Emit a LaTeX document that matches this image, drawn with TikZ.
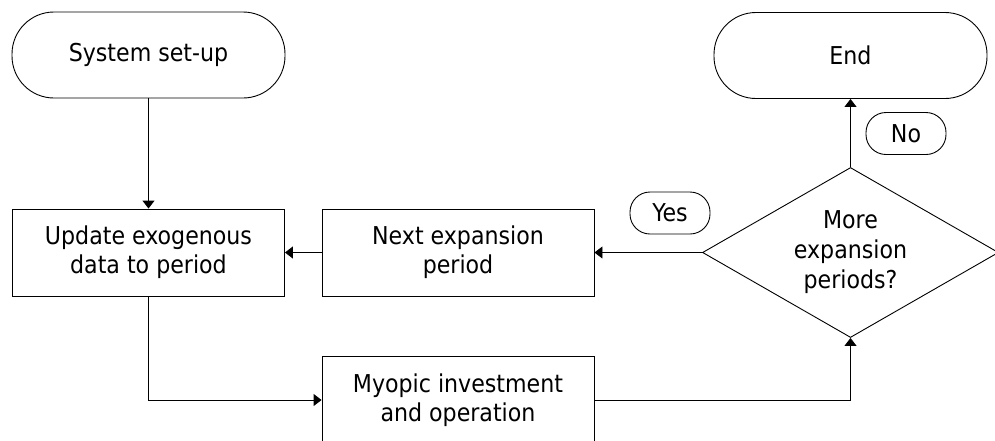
\documentclass[tikz,border=0pt]{standalone}
\usepackage{fontspec}
\setmainfont{DejaVu Sans Condensed}
\usetikzlibrary{shapes.geometric,arrows.meta}

\begin{document}
\begin{tikzpicture}[x=1pt,y=-1pt,
  every node/.style={font=\fontsize{24.6}{29}\selectfont, align=center, inner sep=0pt},
  terminal/.style={draw, line width=0.9pt, rounded corners=42pt, minimum width=273pt, minimum height=86pt},
  process/.style={draw, line width=0.9pt, minimum width=272pt, minimum height=87pt},
  decision/.style={draw, line width=0.9pt, diamond, aspect=1.74, minimum width=296pt, minimum height=170pt,
    font=\fontsize{24.6}{30}\selectfont, text width=130pt},
  answer/.style={draw, line width=0.9pt, rounded corners=20pt, minimum width=80pt, minimum height=42pt},
  flow/.style={line width=0.9pt, -{Triangle[length=8pt,width=12pt]}}
]
  % page frame
  \useasboundingbox[fill=white] (0,0) rectangle (995,440);

  % blocks
  \node[terminal] (setup)  at (148.5,55)   {System set-up};
  \node[terminal] (finish) at (850.5,55.5) {End};
  \node[process]  (update) at (148.5,252.5) {Update exogenous\\data to period};
  \node[process]  (nextp)  at (458,252.5)   {Next expansion\\period};
  \node[process]  (myopic) at (458,400)     {Myopic investment\\and operation};
  \node[decision] (more)   at (850.5,252.5) {More\\expansion\\periods?};

  % branch labels
  \node[answer] (yes) at (670,213)   {Yes};
  \node[answer] (no)  at (906,133.5) {No};

  % connectors
  \draw[flow] (setup.south) -- (update.north);
  \draw[flow] (update.south) |- (myopic.west);
  \draw[flow] (myopic.east) -| (more.south);
  \draw[flow] (more.west) -- (nextp.east);
  \draw[flow] (nextp.west) -- (update.east);
  \draw[flow] (more.north) -- (finish.south);
\end{tikzpicture}
\end{document}
